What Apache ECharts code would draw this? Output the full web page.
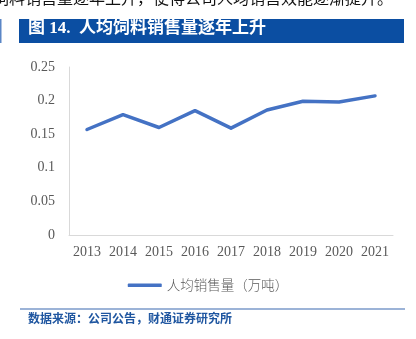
<!DOCTYPE html>
<html>
<head>
<meta charset="utf-8">
<script src="https://cdn.jsdelivr.net/npm/echarts@6/dist/echarts.min.js"></script>
<style>
  html, body { margin: 0; padding: 0; background: #fff; }
  #chart { width: 416px; height: 339px; }
</style>
</head>
<body>
<div id="chart"></div>
<script>
// Per-capita feed sales volume (10k tonnes), 2013–2021
const years = ['2013', '2014', '2015', '2016', '2017', '2018', '2019', '2020', '2021'];
const perCapitaSales = [0.157, 0.179, 0.160, 0.185, 0.159, 0.186, 0.199, 0.198, 0.207];
const yTicks = [0, 0.05, 0.1, 0.15, 0.2, 0.25];
const seriesName = '人均销售量（万吨）';

const headerLine = '饲料销售量逐年上升，使得公司人均销售效能逐渐提升。';
const figureTitle = '图 14.  人均饲料销售量逐年上升';
const sourceNote = '数据来源：公司公告，财通证券研究所';

const chart = echarts.init(document.getElementById('chart'), null, { renderer: 'canvas' });

const serif = '"Liberation Serif", "Times New Roman", "Noto Sans CJK SC", serif';
const cjk = '"Noto Sans CJK SC", sans-serif';

chart.setOption({
  animation: false,
  backgroundColor: '#ffffff',
  grid: { left: 69, right: 23, top: 67, bottom: 104, containLabel: false },
  xAxis: {
    type: 'category',
    data: years,
    boundaryGap: true,
    axisLine: { show: true, lineStyle: { color: '#d9d9d9', width: 1 } },
    axisTick: { show: false },
    axisLabel: { color: '#595959', fontFamily: serif, fontSize: 14, margin: 10, interval: 0 },
    splitLine: { show: false }
  },
  yAxis: {
    type: 'value',
    min: yTicks[0],
    max: yTicks[yTicks.length - 1],
    interval: yTicks[1] - yTicks[0],
    axisLine: { show: true, lineStyle: { color: '#d9d9d9', width: 1 } },
    axisTick: { show: false },
    splitLine: { show: false },
    axisLabel: {
      color: '#595959', fontFamily: serif, fontSize: 14, margin: 14,
      formatter: v => String(Math.round(v * 100) / 100)
    }
  },
  legend: {
    data: [seriesName],
    bottom: 42,
    left: 'center',
    icon: 'roundRect',
    itemWidth: 34,
    itemHeight: 3.5,
    itemGap: 4,
    textStyle: { color: '#595959', fontFamily: cjk, fontWeight: 300, fontSize: 13.5, padding: [0, 0, 0, 0] }
  },
  series: [{
    name: seriesName,
    type: 'line',
    data: perCapitaSales,
    showSymbol: false,
    symbol: 'none',
    lineStyle: { color: '#4472c4', width: 3.5, cap: 'round', join: 'round' },
    itemStyle: { color: '#4472c4' }
  }],
  graphic: [
    {
      type: 'text', left: -7, top: -10,
      style: { text: headerLine, font: '16px ' + cjk, fill: '#111' }
    },
    {
      type: 'rect', shape: { x: 0, y: 19, width: 1.5, height: 24 },
      style: { fill: '#5a86c6' }
    },
    {
      type: 'rect', shape: { x: 19, y: 19, width: 385, height: 24 },
      style: { fill: '#0b4ea2' }
    },
    {
      type: 'text', left: 28, top: 20.5,
      style: { text: figureTitle, font: 'bold 17px ' + serif, fill: '#ffffff' }
    },
    {
      type: 'rect', shape: { x: 20, y: 308.5, width: 385, height: 1 },
      style: { fill: '#3a68b0' }
    },
    {
      type: 'text', left: 28, top: 312,
      style: { text: sourceNote, font: 'bold 12px ' + cjk, fill: '#1f56a0' }
    }
  ]
});
</script>
</body>
</html>
